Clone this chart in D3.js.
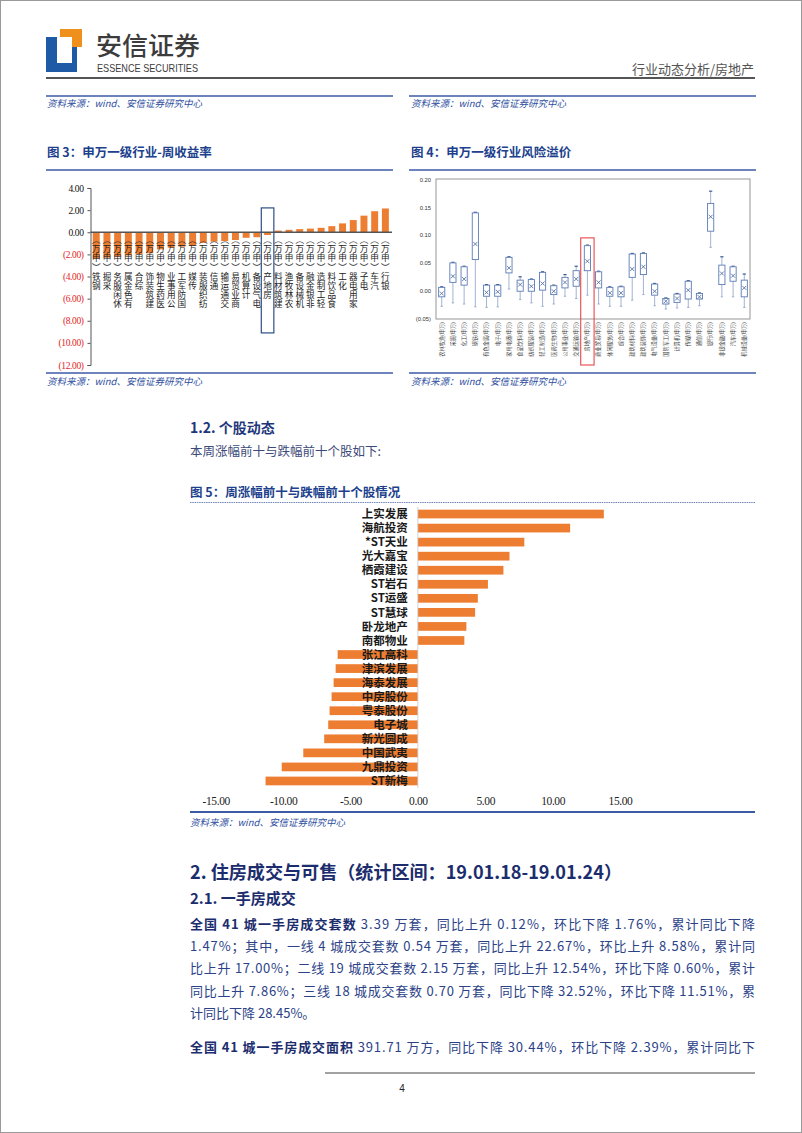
<!DOCTYPE html>
<html><head><meta charset="utf-8">
<script src="https://cdn.jsdelivr.net/npm/d3@7"></script>
<style>
html,body{margin:0;padding:0;background:#fff;}
svg{display:block;}
</style></head><body>
<svg id="page" width="802" height="1133"></svg>
<script>
// ---------- DATA ----------
const fig3Categories = ["钢铁","采掘","休闲服务","有色金属","综合","建筑装饰","医药生物","公用事业","国防军工","传媒","纺织服装","通信","交通运输","商业贸易","计算机","电气设备","房地产","建筑材料","农林牧渔","机械设备","非银金融","轻工制造","食品饮料","化工","家用电器","电子","汽车","银行"];
const fig3Values = [-2.4,-2.3,-2.2,-2.1,-2.0,-1.9,-1.55,-1.4,-1.3,-1.2,-0.95,-0.85,-0.8,-0.7,-0.5,-0.45,-0.25,0.15,0.22,0.28,0.33,0.4,0.55,0.8,1.1,1.5,1.9,2.15];
const fig3Ticks = [4,2,0,-2,-4,-6,-8,-10,-12];
const fig3Highlight = "房地产";

const fig4Categories = ["农林牧渔","采掘","化工","钢铁","有色金属","电子","家用电器","食品饮料","纺织服装","轻工制造","医药生物","公用事业","交通运输","房地产","商业贸易","休闲服务","综合","建筑材料","建筑装饰","电气设备","国防军工","计算机","传媒","通信","银行","非银金融","汽车","机械设备"];
const fig4Min  = [-0.028,-0.022,-0.024,-0.029,-0.030,-0.029,0.003,-0.016,-0.022,-0.028,-0.024,-0.010,-0.014,-0.008,-0.024,-0.028,-0.028,-0.017,-0.007,-0.027,-0.033,-0.031,-0.030,-0.027,0.078,-0.011,-0.011,-0.030];
const fig4Q1   = [-0.011,0.015,0.010,0.056,-0.010,-0.010,0.032,-0.001,-0.001,0.001,-0.007,0.005,0.008,0.036,0.005,-0.010,-0.011,0.024,0.029,-0.008,-0.024,-0.021,-0.015,-0.015,0.107,0.011,0.017,-0.011];
const fig4Q3   = [0.006,0.050,0.043,0.140,0.010,0.010,0.060,0.019,0.020,0.033,0.009,0.024,0.036,0.081,0.034,0.006,0.007,0.066,0.067,0.012,-0.014,-0.006,0.017,-0.005,0.157,0.046,0.043,0.019];
const fig4Max  = [0.007,0.051,0.044,0.141,0.011,0.011,0.061,0.025,0.021,0.034,0.010,0.029,0.044,0.082,0.035,0.007,0.008,0.067,0.068,0.013,-0.013,-0.005,0.018,-0.004,0.179,0.061,0.044,0.030];
const fig4Mean = [-0.005,0.026,0.021,0.084,-0.003,-0.002,0.041,0.011,0.008,0.013,-0.001,0.015,0.021,0.053,0.015,-0.004,-0.004,0.039,0.043,-0.001,-0.019,-0.014,0.001,-0.011,0.133,0.031,0.027,0.005];
const fig4Ticks = [0.20,0.15,0.10,0.05,0.00,-0.05];
const fig4Highlight = "房地产";

const fig5Stocks = ["上实发展","海航投资","*ST天业","光大嘉宝","栖霞建设","ST岩石","ST运盛","ST慧球","卧龙地产","南都物业","张江高科","津滨发展","海泰发展","中房股份","粤泰股份","电子城","新光圆成","中国武夷","九鼎投资","ST新梅"];
const fig5Values = [13.8,11.3,7.9,6.8,6.35,5.2,4.45,4.25,3.6,3.45,-5.95,-6.1,-6.25,-6.4,-6.55,-6.65,-6.95,-8.5,-10.1,-11.3];
const fig5Ticks = [-15,-10,-5,0,5,10,15];

const sourceText = "资料来源：wind、安信证券研究中心";

// ---------- STYLES ----------
const CJK = "'Noto Sans CJK SC','Noto Sans',sans-serif";
const SERIF = "'Liberation Serif','DejaVu Serif',serif";
const BLUE = "#203f8c";
const LINEBLUE = "#3b5aa6";
const ORANGE = "#ed7d31";
const NAVY = "#22377a";

const svg = d3.select("#page");
svg.append("rect").attr("x",0.5).attr("y",0.5).attr("width",801).attr("height",1132)
  .attr("fill","#fff").attr("stroke","#9a9a9a");

// ---------- HEADER ----------
const logo = svg.append("g");
logo.append("path").attr("fill","#1f5aa6")
  .attr("d","M46,37 H57 V63 H72 V47 H77 V72 H46 Z");
logo.append("path").attr("fill","#f0901c")
  .attr("d","M60,29 H82 V47 H72 V37 H60 Z");
svg.append("text").attr("x",96).attr("y",55).attr("font-family",CJK).attr("font-weight",500)
  .attr("font-size",25).attr("fill","#3c3c3c").attr("textLength",104).attr("lengthAdjust","spacingAndGlyphs").text("安信证券");
svg.append("text").attr("x",97).attr("y",72).attr("font-family","'Liberation Sans Narrow','Liberation Sans',sans-serif")
  .attr("font-size",11).attr("fill","#3c3c3c").attr("textLength",101).attr("lengthAdjust","spacingAndGlyphs").text("ESSENCE SECURITIES");
svg.append("text").attr("x",754).attr("y",74).attr("text-anchor","end").attr("font-family",CJK)
  .attr("font-size",13).attr("fill","#555").text("行业动态分析/房地产");
svg.append("line").attr("x1",46).attr("x2",755).attr("y1",78).attr("y2",78).attr("stroke","#555").attr("stroke-width",2);

function blueRule(x1,x2,y,w){
  svg.append("line").attr("x1",x1).attr("x2",x2).attr("y1",y).attr("y2",y).attr("stroke",LINEBLUE).attr("stroke-width",w||1.6);
}
function source(x,y){
  svg.append("text").attr("x",x).attr("y",y).attr("font-family",CJK).attr("font-style","italic")
    .attr("font-size",9.5).attr("fill","#2f4f9f").text(sourceText);
}
function figTitle(x,y,t){
  svg.append("text").attr("x",x).attr("y",y).attr("font-family",CJK).attr("font-weight",700)
    .attr("font-size",12.5).attr("fill",BLUE).text(t);
}

blueRule(46,393,96); blueRule(409,756,96);
source(47,107); source(411,107);

// ---------- FIGURE 3 ----------
figTitle(47,157,"图 3：申万一级行业-周收益率");
blueRule(46,393,170);
{
  const y = d3.scaleLinear().domain([-12,4]).range([365,188]);
  const x = d3.scaleBand().domain(fig3Categories).range([90.6,391]).paddingInner(0.35).paddingOuter(0.2);
  const g = svg.append("g");
  g.selectAll("rect.bar").data(fig3Categories).join("rect").attr("class","bar")
    .attr("x",d=>x(d)).attr("width",x.bandwidth())
    .attr("y",(d,i)=>y(Math.max(0,fig3Values[i])))
    .attr("height",(d,i)=>Math.abs(y(fig3Values[i])-y(0)))
    .attr("fill",ORANGE);
  const ax = g.append("g").attr("transform","translate(90.5,0)")
    .call(d3.axisLeft(y).tickValues(fig3Ticks).tickSize(3).tickPadding(4)
      .tickFormat(d=>d<0?`(${Math.abs(d).toFixed(2)})`:d.toFixed(2)));
  ax.select(".domain").attr("stroke","#555");
  ax.selectAll(".tick line").attr("stroke","#555");
  ax.selectAll(".tick text").attr("font-family",SERIF).attr("font-size",9.5).attr("letter-spacing",-0.4)
    .attr("fill",d=>d<0?"#e31e24":"#111");
  g.append("line").attr("x1",90.5).attr("x2",392).attr("y1",y(0)).attr("y2",y(0)).attr("stroke","#555").attr("stroke-width",1.3);
  // stacked upright characters, read bottom to top
  const pmap = {"(":"︶",")":"︵"};
  fig3Categories.forEach(c=>{
    const chars = Array.from(c+"(申万)").reverse();
    const cx = x(c)+x.bandwidth()/2;
    chars.forEach((ch,k)=>{
      g.append("text").attr("x",cx).attr("y",y(0)+11+k*9.1).attr("text-anchor","middle")
        .attr("font-family",CJK).attr("font-size",8.6).attr("fill","#222").text(pmap[ch]||ch);
    });
  });
  const hx = x(fig3Highlight);
  g.append("rect").attr("x",hx-2.8).attr("width",x.bandwidth()+5.6)
    .attr("y",y(2.2)).attr("height",y(-9.1)-y(2.2))
    .attr("fill","none").attr("stroke","#2e4e86").attr("stroke-width",1.2);
}
blueRule(46,393,373);
source(47,385);

// ---------- FIGURE 4 ----------
figTitle(411,157,"图 4：申万一级行业风险溢价");
blueRule(409,756,170);
{
  const y = d3.scaleLinear().domain([-0.05,0.20]).range([318.5,179.5]);
  const x = d3.scaleBand().domain(fig4Categories).range([436,750]).paddingInner(0.45).paddingOuter(0.235);
  const g = svg.append("g");
  g.append("rect").attr("x",436).attr("y",179).attr("width",314).attr("height",140)
    .attr("fill","none").attr("stroke","#8a8a8a").attr("stroke-width",0.9);
  const ax = g.append("g").attr("transform","translate(436,0)")
    .call(d3.axisLeft(y).tickValues(fig4Ticks).tickSize(0).tickPadding(5)
      .tickFormat(d=>d<0?`(${Math.abs(d).toFixed(2)})`:d.toFixed(2)));
  ax.select(".domain").remove();
  ax.selectAll(".tick text").attr("font-family","'Liberation Sans',sans-serif").attr("font-size",5.8).attr("fill","#333");
  const boxColor = "#5b7bb5";
  fig4Categories.forEach((c,i)=>{
    const x0 = x(c), w = x.bandwidth(), cx = x0+w/2;
    g.append("line").attr("x1",cx).attr("x2",cx).attr("y1",y(fig4Max[i])).attr("y2",y(fig4Q3[i])).attr("stroke","#8aa0c8").attr("stroke-width",0.8);
    g.append("line").attr("x1",cx).attr("x2",cx).attr("y1",y(fig4Q1[i])).attr("y2",y(fig4Min[i])).attr("stroke","#8aa0c8").attr("stroke-width",0.8);
    g.append("line").attr("x1",cx-1.6).attr("x2",cx+1.6).attr("y1",y(fig4Max[i])).attr("y2",y(fig4Max[i])).attr("stroke","#3c5a95").attr("stroke-width",1.2);
    g.append("line").attr("x1",cx-1.2).attr("x2",cx+1.2).attr("y1",y(fig4Min[i])).attr("y2",y(fig4Min[i])).attr("stroke","#8aa0c8").attr("stroke-width",0.8);
    g.append("rect").attr("x",x0).attr("width",w).attr("y",y(fig4Q3[i])).attr("height",y(fig4Q1[i])-y(fig4Q3[i]))
      .attr("fill","#fff").attr("stroke",boxColor).attr("stroke-width",0.9);
    const my = y(fig4Mean[i]);
    g.append("path").attr("d",`M${cx-2},${my-2}L${cx+2},${my+2}M${cx-2},${my+2}L${cx+2},${my-2}`)
      .attr("stroke","#44619c").attr("stroke-width",0.8);
    g.append("text").attr("transform",`translate(${cx+1.8},${322}) rotate(-90)`).attr("text-anchor","end")
      .attr("font-family",CJK).attr("font-size",5.2).attr("fill","#444").text(c+"(申万)");
  });
  const hx = x(fig4Highlight);
  g.append("rect").attr("x",hx-3.6).attr("width",x.bandwidth()+7.2)
    .attr("y",y(0.095)).attr("height",365-y(0.095))
    .attr("fill","none").attr("stroke","#e8474a").attr("stroke-width",1.1);
}
blueRule(409,756,373);
source(411,385);

// ---------- SECTION 1.2 ----------
svg.append("text").attr("x",190).attr("y",433).attr("font-family",CJK).attr("font-weight",700)
  .attr("font-size",14).attr("fill",NAVY).text("1.2. 个股动态");
svg.append("text").attr("x",190).attr("y",456).attr("font-family",CJK)
  .attr("font-size",12.5).attr("fill","#3b4a78").text("本周涨幅前十与跌幅前十个股如下:");

// ---------- FIGURE 5 ----------
figTitle(190,497,"图 5：周涨幅前十与跌幅前十个股情况");
svg.append("line").attr("x1",190).attr("x2",755).attr("y1",502.5).attr("y2",502.5).attr("stroke","#6f86b8").attr("stroke-width",1).attr("stroke-dasharray","1.5,0.8");
{
  const x = d3.scaleLinear().domain([-15,15]).range([215.7,620]);
  const y = d3.scaleBand().domain(fig5Stocks).range([507,788]).paddingInner(0.38).paddingOuter(0.19);
  const g = svg.append("g");
  g.selectAll("rect.bar").data(fig5Stocks).join("rect").attr("class","bar")
    .attr("x",(d,i)=>x(Math.min(0,fig5Values[i]))).attr("width",(d,i)=>Math.abs(x(fig5Values[i])-x(0)))
    .attr("y",d=>y(d)).attr("height",y.bandwidth()).attr("fill",ORANGE);
  g.append("line").attr("x1",x(0)).attr("x2",x(0)).attr("y1",507).attr("y2",788).attr("stroke","#c8c8c8").attr("stroke-width",0.8);
  g.selectAll("text.lab").data(fig5Stocks).join("text").attr("class","lab")
    .attr("x",x(0)-10).attr("y",d=>y(d)+y.bandwidth()/2).attr("dy","0.36em").attr("text-anchor","end")
    .attr("font-family",CJK).attr("font-weight",600).attr("font-size",11.5).attr("fill","#1a1a1a").text(d=>d);
  const ax = g.append("g").attr("transform","translate(0,797)")
    .call(d3.axisBottom(x).tickValues(fig5Ticks).tickSize(0).tickPadding(0).tickFormat(d=>d.toFixed(2)));
  ax.select(".domain").remove();
  ax.selectAll(".tick text").attr("font-family",SERIF).attr("font-size",11.5).attr("letter-spacing",-0.4).attr("fill","#222");
}
blueRule(190,755,812,2);
source(190,826);

// ---------- SECTION 2 ----------
svg.append("text").attr("x",190).attr("y",879).attr("font-family",CJK).attr("font-weight",700)
  .attr("font-size",18).attr("fill","#1c2d6e").attr("textLength",432).attr("lengthAdjust","spacingAndGlyphs")
  .text("2. 住房成交与可售（统计区间：19.01.18-19.01.24）");
svg.append("text").attr("x",190).attr("y",904).attr("font-family",CJK).attr("font-weight",700)
  .attr("font-size",15).attr("fill","#1c2d6e").text("2.1. 一手房成交");

const paraLines = [
  [["全国 41 城一手房成交套数",true],[" 3.39 万套，同比上升 0.12%，环比下降 1.76%，累计同比下降",false]],
  [["1.47%；其中，一线 4 城成交套数 0.54 万套，同比上升 22.67%，环比上升 8.58%，累计同",false]],
  [["比上升 17.00%；二线 19 城成交套数 2.15 万套，同比上升 12.54%，环比下降 0.60%，累计",false]],
  [["同比上升 7.86%；三线 18 城成交套数 0.70 万套，同比下降 32.52%，环比下降 11.51%，累",false]],
  [["计同比下降 28.45%。",false]],
  [["全国 41 城一手房成交面积",true],[" 391.71 万方，同比下降 30.44%，环比下降 2.39%，累计同比下",false]]
];
const paraY = [929,951,973,996,1018,1052];
const justify = [true,true,true,true,false,true];
paraLines.forEach((ln,i)=>{
  const t = svg.append("text").attr("x",190).attr("y",paraY[i]).attr("font-family",CJK)
    .attr("font-size",13).attr("fill","#2b4287");
  if(justify[i]) t.attr("textLength",565).attr("lengthAdjust","spacing");
  ln.forEach(([s,b])=>{
    t.append("tspan").attr("font-weight",b?700:400).attr("fill",b?"#1c2d6e":"#2b4287").text(s);
  });
});

// ---------- FOOTER ----------
svg.append("line").attr("x1",325).attr("x2",755).attr("y1",1073).attr("y2",1073).attr("stroke","#444").attr("stroke-width",1);
svg.append("text").attr("x",402).attr("y",1092).attr("text-anchor","middle").attr("font-family","'Liberation Sans',sans-serif")
  .attr("font-size",10).attr("fill","#222").text("4");
</script>
</body></html>
